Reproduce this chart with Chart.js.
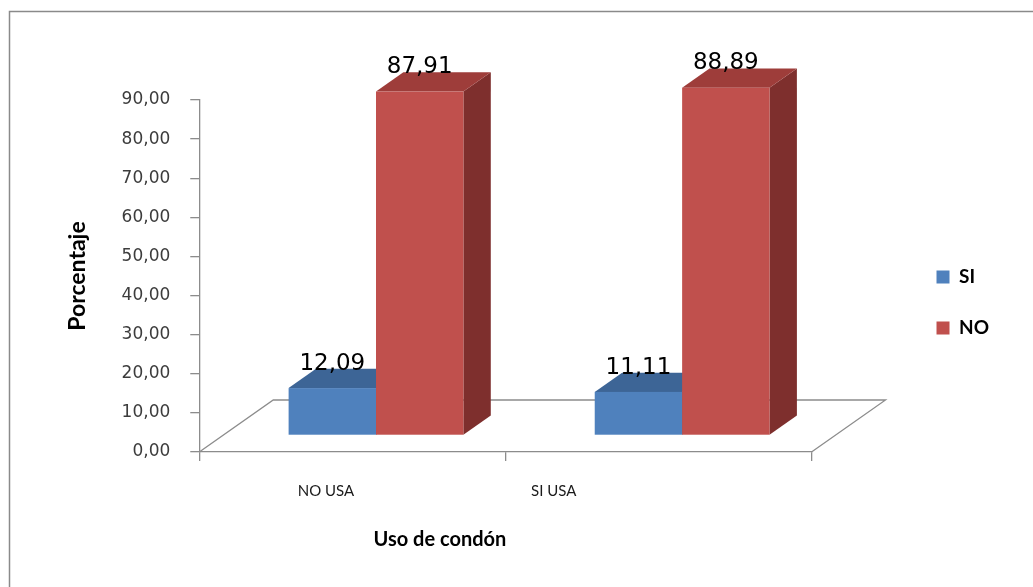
<!DOCTYPE html>
<html lang="es">
<head>
<meta charset="utf-8">
<title>Uso de condón</title>
<script src="https://cdn.jsdelivr.net/npm/chart.js@4.4.1/dist/chart.umd.min.js"></script>
<style>
  html, body { margin: 0; padding: 0; background: #ffffff; }
  #wrap { position: relative; width: 1033px; height: 587px; }
</style>
</head>
<body>
<div id="wrap"><canvas id="chart" width="1033" height="587"></canvas></div>
<script>
// ---- data ----
const categories = ['NO USA', 'SI USA'];
const seriesNames = ['SI', 'NO'];
const siValues = [12.09, 11.11];
const noValues = [87.91, 88.89];
const yTickValues = [0, 10, 20, 30, 40, 50, 60, 70, 80, 90];
const xAxisTitle = 'Uso de condón';
const yAxisTitle = 'Porcentaje';

// ---- styling ----
const FRONT = ['#4F81BD', '#C0504D'];
const TOP   = ['#3D6596', '#9E3D3A'];
const SIDE  = ['#335680', '#7E2F2D'];
const GRAY  = '#8C8C8C';

const fmt = v => Number(v).toFixed(2).replace('.', ',');

// Outer frame of the chart object
const frame = {
  id: 'frame',
  beforeDraw(chart) {
    const { ctx } = chart;
    ctx.save();
    ctx.strokeStyle = '#8A8A8A';
    ctx.lineWidth = 1.5;
    ctx.beginPath();
    ctx.moveTo(9.5, chart.height + 5);
    ctx.lineTo(9.5, 11.5);
    ctx.lineTo(chart.width + 5, 11.5);
    ctx.stroke();
    ctx.restore();
  }
};

// Column-3D look: floor outline, boxes with top and side faces, value labels
const columns3d = {
  id: 'columns3d',
  beforeDatasetsDraw(chart, args, opts) {
    const { ctx } = chart;
    const xs = chart.scales.x, ys = chart.scales.y;
    const base = ys.getPixelForValue(0);
    const L = xs.left, R = xs.right;
    const [dx, dy] = opts.depth;

    ctx.save();
    // floor: left, back and right edges (front edge is the x axis line)
    ctx.strokeStyle = GRAY;
    ctx.lineWidth = 1.3;
    ctx.beginPath();
    ctx.moveTo(L, base);
    ctx.lineTo(L + dx, base + dy);
    ctx.lineTo(R + dx, base + dy);
    ctx.lineTo(R, base);
    ctx.stroke();

    const ox = dx * opts.front, oy = dy * opts.front;
    const bx = dx * opts.thickness, by = dy * opts.thickness;
    const labels = [];

    for (let j = 0; j < categories.length; j++) {
      chart.data.datasets.forEach((ds, i) => {
        const meta = chart.getDatasetMeta(i);
        if (meta.hidden) return;
        const el = meta.data[j];
        const x1 = el.x - el.width / 2 + ox;
        const x2 = el.x + el.width / 2 + ox;
        const yt = el.y + oy;
        const yb = el.base + oy;

        // side face
        ctx.fillStyle = SIDE[i];
        ctx.beginPath();
        ctx.moveTo(x2, yt);
        ctx.lineTo(x2 + bx, yt + by);
        ctx.lineTo(x2 + bx, yb + by);
        ctx.lineTo(x2, yb);
        ctx.closePath();
        ctx.fill();

        // top face
        ctx.fillStyle = TOP[i];
        ctx.beginPath();
        ctx.moveTo(x1, yt);
        ctx.lineTo(x2, yt);
        ctx.lineTo(x2 + bx, yt + by);
        ctx.lineTo(x1 + bx, yt + by);
        ctx.closePath();
        ctx.fill();

        // front face
        ctx.fillStyle = FRONT[i];
        ctx.fillRect(x1, yt, x2 - x1, yb - yt);

        labels.push({ text: fmt(ds.data[j]), x: (x1 + x2) / 2, y: yt + by + 1 });
      });
    }

    ctx.fillStyle = '#000000';
    ctx.font = '23px "DejaVu Sans"';
    ctx.textAlign = 'center';
    ctx.textBaseline = 'alphabetic';
    labels.forEach(l => ctx.fillText(l.text, l.x, l.y));
    ctx.restore();
    return false;
  },
  afterDraw(chart, args, opts) {
    const { ctx } = chart;
    const xs = chart.scales.x;
    const base = chart.scales.y.getPixelForValue(0);
    ctx.save();
    ctx.textAlign = 'center';
    ctx.textBaseline = 'middle';
    ctx.fillStyle = '#1A1A1A';
    ctx.font = '15px Lato';
    categories.forEach((c, j) => {
      ctx.fillText(c, xs.left + xs.width * opts.labelAnchors[j], base + opts.labelGap);
    });
    ctx.fillStyle = '#000000';
    ctx.font = 'bold 20px Lato';
    ctx.fillText(xAxisTitle, xs.left + xs.width * opts.titleAnchor, base + opts.titleGap);
    ctx.restore();
  }
};

// Legend placement to the right of the floor
const legendPlacement = {
  id: 'legendPlacement',
  afterLayout(chart, args, opts) {
    const lg = chart.legend;
    if (!lg) return;
    lg.left += opts.dx; lg.right += opts.dx;
    lg.top += opts.dy; lg.bottom += opts.dy;
  }
};

new Chart(document.getElementById('chart'), {
  type: 'bar',
  data: {
    labels: categories,
    datasets: [
      { label: seriesNames[0], data: siValues, backgroundColor: FRONT[0], borderWidth: 0 },
      { label: seriesNames[1], data: noValues, backgroundColor: FRONT[1], borderWidth: 0 }
    ]
  },
  plugins: [frame, columns3d, legendPlacement],
  options: {
    responsive: false,
    devicePixelRatio: 1,
    animation: false,
    events: [],
    categoryPercentage: 0.571,
    barPercentage: 1.0,
    layout: { padding: { left: 61, top: 100, right: 127, bottom: 126 } },
    scales: {
      x: {
        offset: true,
        grid: { display: true, offset: true, drawOnChartArea: false, drawTicks: true, tickLength: 9, color: GRAY, lineWidth: 1.3 },
        border: { display: true, color: GRAY, width: 1.3 },
        ticks: { display: false }
      },
      y: {
        min: 0,
        max: 90,
        afterBuildTicks: s => { s.ticks = yTickValues.map(v => ({ value: v })); },
        ticks: {
          callback: v => fmt(v),
          font: { family: 'DejaVu Sans', size: 17 },
          color: '#3C3C3C',
          padding: 20
        },
        grid: { drawOnChartArea: false, drawTicks: true, tickLength: 9, color: GRAY, lineWidth: 1.3 },
        border: { display: true, color: GRAY, width: 1.3 },
        title: {
          display: true,
          text: yAxisTitle,
          color: '#000000',
          font: { family: 'Lato', size: 23, weight: 'bold' },
          padding: { top: 3, bottom: 10 }
        }
      }
    },
    plugins: {
      tooltip: { enabled: false },
      title: { display: false },
      legend: {
        position: 'right',
        labels: {
          boxWidth: 13,
          boxHeight: 13,
          padding: 32,
          color: '#000000',
          font: { family: 'Lato', size: 19, weight: 'bold' }
        }
      },
      columns3d: { depth: [74, -52], front: 0.32, thickness: 0.37, labelAnchors: [0.207, 0.579], labelGap: 39, titleAnchor: 0.393, titleGap: 88 },
      legendPlacement: { dx: 93, dy: 22 }
    }
  }
});
</script>
</body>
</html>
